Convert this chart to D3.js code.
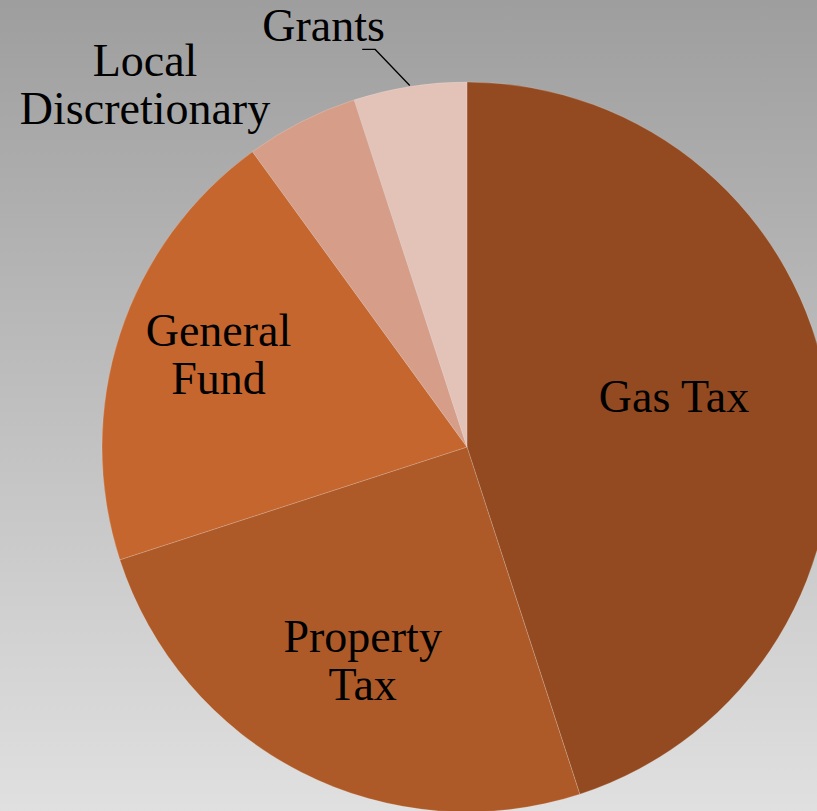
<!DOCTYPE html>
<html>
<head>
<meta charset="utf-8">
<script src="https://cdn.jsdelivr.net/npm/d3@7"></script>
<style>
  html, body { margin: 0; padding: 0; overflow: hidden; }
  svg { display: block; }
</style>
</head>
<body>
<svg id="chart" width="817" height="811"></svg>
<script>
// ---- data ----
const categories = ["Gas Tax", "Property Tax", "General Fund", "Local Discretionary", "Grants"];
const values = [45, 25, 20, 5, 5];
const labelLines = [["Gas Tax"], ["Property", "Tax"], ["General", "Fund"], ["Local", "Discretionary"], ["Grants"]];
const colors = ["#934A20", "#AE5A28", "#C5662F", "#D69D89", "#E3C2B7"];

// ---- layout ----
const W = 817, H = 811;
const cx = 467, cy = 447, R = 365;
const fontSize = 46, lineH = 48;
// label placement: radius and angle shift (degrees) from slice mid-angle
const labelLayout = [
  { r: 213, shift: -4.6 },
  { r: 238, shift: -1.0 },
  { r: 265, shift: 2.3 },
  { r: 485, shift: -14.6 },
  { r: 445, shift: -9.8 }
];

const svg = d3.select("#chart");
const defs = svg.append("defs");
const grad = defs.append("linearGradient").attr("id", "bg")
  .attr("x1", 0).attr("y1", 0).attr("x2", 0).attr("y2", 1);
grad.append("stop").attr("offset", "0%").attr("stop-color", "#9E9E9E");
grad.append("stop").attr("offset", "100%").attr("stop-color", "#E0E0E0");
svg.append("rect").attr("width", W).attr("height", H).attr("fill", "url(#bg)");

const color = d3.scaleOrdinal().domain(categories).range(colors);
const pie = d3.pie().sort(null).value((d, i) => values[i]);
const arcs = pie(categories);
const arc = d3.arc().innerRadius(0).outerRadius(R);

const g = svg.append("g").attr("transform", `translate(${cx},${cy})`);
g.selectAll("path.slice").data(arcs).join("path")
  .attr("class", "slice")
  .attr("d", arc)
  .attr("fill", d => color(d.data))
  .attr("stroke", "rgba(255,255,255,0.18)")
  .attr("stroke-width", 1);

function polar(angle, r) {
  return [r * Math.sin(angle), -r * Math.cos(angle)];
}

// leader line for Grants
const gi = 4;
const ga = arcs[gi];
const gmid = (ga.startAngle + ga.endAngle) / 2;
const p0 = polar(gmid, R + 1);
const p1 = polar(gmid - 4 * Math.PI / 180, 408);
g.append("polyline")
  .attr("points", [p0, p1, [p1[0] - 13, p1[1]]].map(p => p.join(",")).join(" "))
  .attr("fill", "none").attr("stroke", "#000").attr("stroke-width", 1.3);

// labels
const capHalf = fontSize * 0.662 / 2;
arcs.forEach((a, i) => {
  const mid = (a.startAngle + a.endAngle) / 2 + labelLayout[i].shift * Math.PI / 180;
  const [x, y] = polar(mid, labelLayout[i].r);
  const lines = labelLines[i];
  const firstBase = y - (lines.length - 1) * lineH / 2 + capHalf;
  const t = g.append("text")
    .attr("text-anchor", "middle")
    .attr("font-family", "'Liberation Serif', 'DejaVu Serif', serif")
    .attr("font-size", fontSize)
    .attr("fill", "#000");
  lines.forEach((ln, k) => {
    t.append("tspan").attr("x", x).attr("y", firstBase + k * lineH).text(ln);
  });
});
</script>
</body>
</html>
